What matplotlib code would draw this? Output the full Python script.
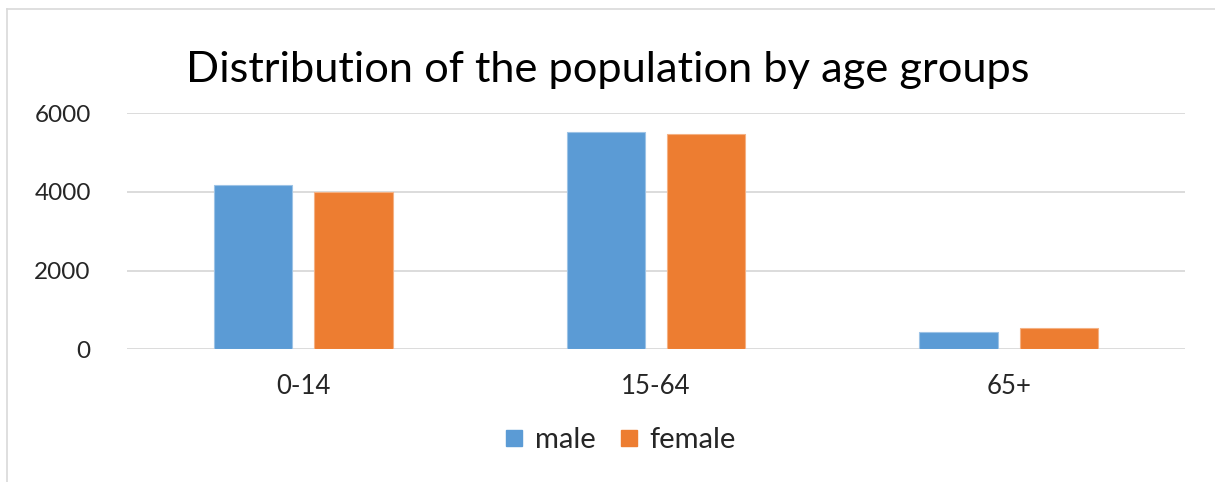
import matplotlib.pyplot as plt
from matplotlib.lines import Line2D
import numpy as np

plt.rcParams['font.family'] = ['Lato', 'DejaVu Sans']

age_groups = ['0-14', '15-64', '65+']
male = [4170, 5520, 440]
female = [4000, 5480, 530]
y_ticks = [0, 2000, 4000, 6000]

blue = '#5B9BD5'
orange = '#ED7D31'

fig = plt.figure(figsize=(12.15, 4.82), dpi=100)
ax = fig.add_axes([0.1045, 0.2753, 0.8708, 0.4897])

x = np.arange(len(age_groups))
w = 0.222
off = 0.142
ax.bar(x - off, male, w, color=blue, edgecolor='#9DC3E6', linewidth=0.8, label='male', zorder=3)
ax.bar(x + off, female, w, color=orange, edgecolor='#F4B183', linewidth=0.8, label='female', zorder=3)

ax.set_xlim(-0.5, 2.5)
ax.set_ylim(0, 6000)
ax.set_yticks(y_ticks)
ax.set_yticklabels([str(v) for v in y_ticks], fontsize=17.5, color='#262626')
ax.set_xticks(x)
ax.set_xticklabels(age_groups, fontsize=18.5, color='#262626')
ax.tick_params(axis='both', length=0)
ax.tick_params(axis='y', pad=26)
ax.tick_params(axis='x', pad=18)
ax.grid(axis='y', color='#D9D9D9', linewidth=1.3, zorder=0)
for s in ax.spines.values():
    s.set_visible(False)

fig.text(0.5, 0.855, 'Distribution of the population by age groups',
         ha='center', va='center', fontsize=31.2, color='#000000')

handles = [Line2D([], [], marker='s', linestyle='', markersize=12, color=blue),
           Line2D([], [], marker='s', linestyle='', markersize=12, color=orange)]
fig.legend(handles, ['male', 'female'], loc='center', bbox_to_anchor=(0.509, 0.087),
           ncol=2, frameon=False, fontsize=21, handletextpad=0.25, columnspacing=0.7,
           handlelength=0.9, labelcolor='#262626')

# frame lines of the chart area
fig.add_artist(Line2D([7 / 1215, 1], [1 - 9 / 482, 1 - 9 / 482], transform=fig.transFigure,
                      color='#D9D9D9', linewidth=1.2))
fig.add_artist(Line2D([7 / 1215, 7 / 1215], [0, 1 - 9 / 482], transform=fig.transFigure,
                      color='#D9D9D9', linewidth=1.2))

fig.savefig('out.png', dpi=100, facecolor='white')
